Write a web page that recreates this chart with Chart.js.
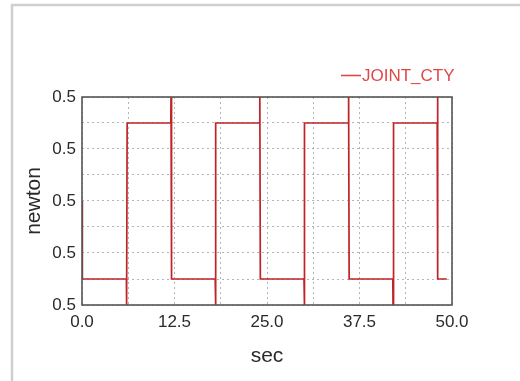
<!DOCTYPE html>
<html>
<head>
<meta charset="utf-8">
<script src="https://cdn.jsdelivr.net/npm/chart.js@4/dist/chart.umd.min.js"></script>
<style>
  html, body { margin: 0; padding: 0; background: #ffffff; }
  #wrap { width: 520px; height: 381px; }
</style>
</head>
<body>
<div id="wrap"><canvas id="c" width="520" height="381"></canvas></div>
<script>
// Joint force history (newton) against time (sec)
const seriesName = 'JOINT_CTY';
const timeSec = [0, 0.05, 6.0, 6.03, 6.1, 12.0, 12.03, 12.1, 18.0, 18.03, 18.1,
                 24.0, 24.03, 24.1, 30.0, 30.03, 30.1, 36.0, 36.03, 36.1,
                 42.0, 42.03, 42.1, 48.0, 48.03, 48.1, 49.3];
const forceN = [0.5000, 0.4997, 0.4997, 0.4996, 0.5003, 0.5003, 0.5004, 0.4997, 0.4997, 0.4996, 0.5003,
                0.5003, 0.5004, 0.4997, 0.4997, 0.4996, 0.5003, 0.5003, 0.5004, 0.4997,
                0.4997, 0.4996, 0.5003, 0.5003, 0.5004, 0.4997, 0.4997];
const xTicks = [0, 6.25, 12.5, 18.75, 25, 31.25, 37.5, 43.75, 50];
const yTicks = [0.4996, 0.4997, 0.4998, 0.4999, 0.5000, 0.5001, 0.5002, 0.5003, 0.5004];

const FONT = "'Liberation Sans', Arial, sans-serif";
const LINE_RED = '#bf2428';
const GRID = 'rgba(130,130,130,0.6)';

// Panel outline, plot frame and the legend entry
const decorations = {
  id: 'decorations',
  beforeDraw(chart) {
    const ctx = chart.ctx;
    ctx.save();
    ctx.fillStyle = '#ffffff';
    ctx.fillRect(0, 0, chart.width, chart.height);
    ctx.strokeStyle = '#cfcfcf';
    ctx.lineWidth = 2.5;
    ctx.strokeRect(12, 5, 700, 700);
    ctx.restore();
  },
  afterDraw(chart) {
    const ctx = chart.ctx;
    const a = chart.chartArea;
    ctx.save();
    ctx.strokeStyle = '#555555';
    ctx.lineWidth = 1.6;
    ctx.strokeRect(a.left, a.top, a.right - a.left, a.bottom - a.top);
    // legend
    const label = chart.data.datasets[0].label;
    ctx.strokeStyle = '#e04848';
    ctx.lineWidth = 1.6;
    ctx.beginPath();
    ctx.moveTo(341, 75.5);
    ctx.lineTo(361, 75.5);
    ctx.stroke();
    ctx.fillStyle = '#e04848';
    ctx.font = '17px ' + FONT;
    ctx.textBaseline = 'middle';
    ctx.textAlign = 'left';
    ctx.fillText(label, 362, 76);
    ctx.restore();
  }
};

new Chart(document.getElementById('c'), {
  type: 'line',
  data: {
    datasets: [{
      label: seriesName,
      data: timeSec.map((t, i) => ({ x: t, y: forceN[i] })),
      borderColor: LINE_RED,
      borderWidth: 1.7,
      pointRadius: 0,
      tension: 0,
      fill: false
    }]
  },
  options: {
    responsive: false,
    animation: false,
    layout: { padding: { left: 0, right: 68, top: 97, bottom: 0 } },
    plugins: { legend: { display: false }, tooltip: { enabled: false } },
    scales: {
      x: {
        type: 'linear',
        min: 0, max: 50,
        afterBuildTicks: s => { s.ticks = xTicks.map(v => ({ value: v })); },
        afterFit: s => { s.height = 76; },
        border: { display: false, dash: [2, 3] },
        grid: { color: GRID, lineWidth: 1, drawTicks: false },
        ticks: {
          padding: 7,
          color: '#2a2a2a',
          maxRotation: 0,
          autoSkip: false,
          font: { family: FONT, size: 17 },
          callback: (v, i) => (i % 2 === 0 ? Number(v).toFixed(1) : '')
        },
        title: {
          display: true, text: 'sec', color: '#2a2a2a',
          font: { family: FONT, size: 21 },
          padding: { top: 0, bottom: 12 }
        }
      },
      y: {
        type: 'linear',
        min: 0.4996, max: 0.5004,
        afterBuildTicks: s => { s.ticks = yTicks.map(v => ({ value: v })); },
        afterFit: s => { s.width = 82; },
        border: { display: false, dash: [2, 3] },
        grid: { color: GRID, lineWidth: 1, drawTicks: false },
        ticks: {
          padding: 6,
          color: '#2a2a2a',
          autoSkip: false,
          font: { family: FONT, size: 17 },
          callback: (v, i) => (i % 2 === 0 ? Number(v).toFixed(1) : '')
        },
        title: {
          display: true, text: 'newton', color: '#2a2a2a',
          font: { family: FONT, size: 21 },
          padding: { top: 22, bottom: 0 }
        }
      }
    }
  },
  plugins: [decorations]
});
</script>
</body>
</html>
